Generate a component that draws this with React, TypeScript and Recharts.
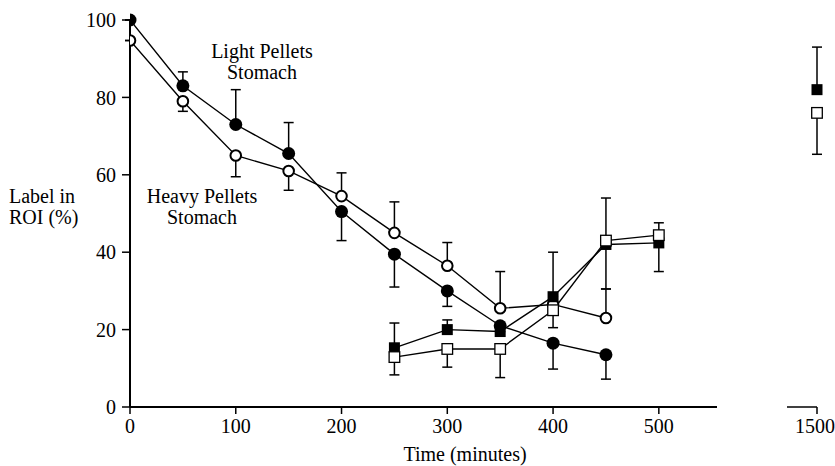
import React from "react";
import { ComposedChart, Line, XAxis, YAxis, ErrorBar } from "recharts";

// time points (minutes)
const stomachTimes = [0, 50, 100, 150, 200, 250, 300, 350, 400, 450];
const colonTimes = [250, 300, 350, 400, 450, 500, 1500];

// Light pellets, stomach (filled circles)
const lightStomach = [100, 83, 73, 65.5, 50.5, 39.5, 30, 21, 16.5, 13.5];
const lightStomachLow = [0, 0, 0, 0, 7.5, 8.5, 4, 0, 6.7, 6.3];
const lightStomachHigh = [0, 3.6, 9, 8, 0, 0, 0, 0, 0, 0];

// Heavy pellets, stomach (open circles)
const heavyStomach = [94.7, 79, 65, 61, 54.5, 45, 36.5, 25.5, 26.5, 23];
const heavyStomachLow = [0, 2.6, 5.5, 5, 0, 0, 0, 0, 0, 0];
const heavyStomachHigh = [0, 0, 0, 0, 6, 8, 6, 9.5, 0, 7.5];

// Light pellets, second region (filled squares)
const lightColon = [15.3, 20, 19.5, 28.5, 42, 42.4, 82];
const lightColonLow = [0, 0, 0, 0, 11.5, 7.4, 0];
const lightColonHigh = [6.4, 2.5, 0, 11.5, 0, 0, 11];

// Heavy pellets, second region (open squares)
const heavyColon = [12.9, 15, 15, 25, 43, 44.4, 76];
const heavyColonLow = [4.6, 4.7, 7.4, 4.5, 0, 0, 10.7];
const heavyColonHigh = [0, 0, 0, 0, 11, 3.2, 0];

const mainTicks = [0, 100, 200, 300, 400, 500];
const farTicks = [1500];
const yTicks = [0, 20, 40, 60, 80, 100];

const BREAK = 555;
const FONT = "'Liberation Serif', 'Times New Roman', serif";

type Pt = { t: number; v: number; err: [number, number] };

function build(times: number[], values: number[], low: number[], high: number[]): Pt[] {
  return times.map((t, i) => ({ t, v: values[i], err: [low[i], high[i]] as [number, number] }));
}

const lightStomachData = build(stomachTimes, lightStomach, lightStomachLow, lightStomachHigh);
const heavyStomachData = build(stomachTimes, heavyStomach, heavyStomachLow, heavyStomachHigh);
const lightColonData = build(colonTimes, lightColon, lightColonLow, lightColonHigh);
const heavyColonData = build(colonTimes, heavyColon, heavyColonLow, heavyColonHigh);

const filledCircle = (p: any) => (
  <circle key={`fc-${p.index}`} cx={p.cx} cy={p.cy} r={6.5} fill="#000" />
);
const openCircle = (p: any) => (
  <circle key={`oc-${p.index}`} cx={p.cx} cy={p.cy} r={5.3} fill="#fff" stroke="#000" strokeWidth={2} />
);
const filledSquare = (p: any) => (
  <rect key={`fs-${p.index}`} x={p.cx - 5.5} y={p.cy - 5.5} width={11} height={11} fill="#000" />
);
const openSquare = (p: any) => (
  <rect
    key={`os-${p.index}`}
    x={p.cx - 5.3}
    y={p.cy - 5.3}
    width={10.6}
    height={10.6}
    fill="#fff"
    stroke="#000"
    strokeWidth={1.3}
  />
);

const tickStyle = { fontFamily: FONT, fontSize: 20, fill: "#000" };

function seriesLines(near: boolean) {
  const keep = (d: Pt[]) => d.filter((p) => (near ? p.t <= BREAK : p.t > BREAK));
  const sets: [Pt[], (p: any) => React.ReactElement, string][] = [
    [lightStomachData, filledCircle, "ls"],
    [heavyStomachData, openCircle, "hs"],
    [lightColonData, filledSquare, "lc"],
    [heavyColonData, openSquare, "hc"],
  ].filter(([d]) => keep(d as Pt[]).length > 0) as any;

  // lines + error bars first, markers drawn afterwards so they sit on top
  const lines = sets.map(([d, , name]) => (
    <Line
      key={`${name}-line`}
      data={keep(d)}
      dataKey="v"
      stroke="#000"
      strokeWidth={1.4}
      dot={false}
      activeDot={false}
      isAnimationActive={false}
    >
      <ErrorBar dataKey="err" width={5} stroke="#000" strokeWidth={1.5} direction="y" />
    </Line>
  ));
  const marks = sets.map(([d, dot, name]) => (
    <Line
      key={`${name}-dots`}
      data={keep(d)}
      dataKey="v"
      stroke="none"
      dot={dot}
      activeDot={false}
      isAnimationActive={false}
    />
  ));
  return [...lines, ...marks];
}

const textBlock: React.CSSProperties = {
  position: "absolute",
  fontFamily: FONT,
  fontSize: 20,
  lineHeight: "21px",
  color: "#000",
  whiteSpace: "nowrap",
};

export default function App() {
  return (
    <div style={{ position: "absolute", left: 0, top: 0, width: 835, height: 466, background: "#fff" }}>
      <div style={{ position: "absolute", left: 0, top: 0 }}>
        <ComposedChart width={730} height={466} margin={{ top: 20, right: 13, bottom: 29, left: 70 }}>
          <XAxis
            type="number"
            dataKey="t"
            domain={[0, BREAK]}
            ticks={mainTicks}
            allowDataOverflow
            height={30}
            tick={tickStyle}
            tickSize={7}
            tickMargin={5}
            axisLine={{ stroke: "#000", strokeWidth: 1.8 }}
            tickLine={{ stroke: "#000", strokeWidth: 1.5 }}
          />
          <YAxis
            type="number"
            domain={[0, 100]}
            ticks={yTicks}
            width={60}
            tick={tickStyle}
            tickSize={8}
            tickMargin={6}
            axisLine={{ stroke: "#000", strokeWidth: 2 }}
            tickLine={{ stroke: "#000", strokeWidth: 1.5 }}
          />
          {seriesLines(true)}
        </ComposedChart>
      </div>
      <div style={{ position: "absolute", left: 770, top: 0 }}>
        <ComposedChart width={65} height={466} margin={{ top: 20, right: 18, bottom: 29, left: 17 }}>
          <XAxis
            type="number"
            dataKey="t"
            domain={[1472, 1500]}
            ticks={farTicks}
            height={30}
            tick={tickStyle}
            tickSize={7}
            tickMargin={5}
            axisLine={{ stroke: "#000", strokeWidth: 1.5 }}
            tickLine={{ stroke: "#000", strokeWidth: 1.5 }}
          />
          <YAxis type="number" domain={[0, 100]} hide />
          {seriesLines(false)}
        </ComposedChart>
      </div>
      <div style={{ ...textBlock, left: 192, top: 41, width: 140, textAlign: "center" }}>
        Light Pellets
        <br />
        Stomach
      </div>
      <div style={{ ...textBlock, left: 132, top: 186, width: 140, textAlign: "center" }}>
        Heavy Pellets
        <br />
        Stomach
      </div>
      <div style={{ ...textBlock, left: 9, top: 186 }}>
        Label in
        <br />
        ROI (%)
      </div>
      <div style={{ ...textBlock, left: 335, top: 444, width: 260, textAlign: "center" }}>
        Time (minutes)
      </div>
    </div>
  );
}
